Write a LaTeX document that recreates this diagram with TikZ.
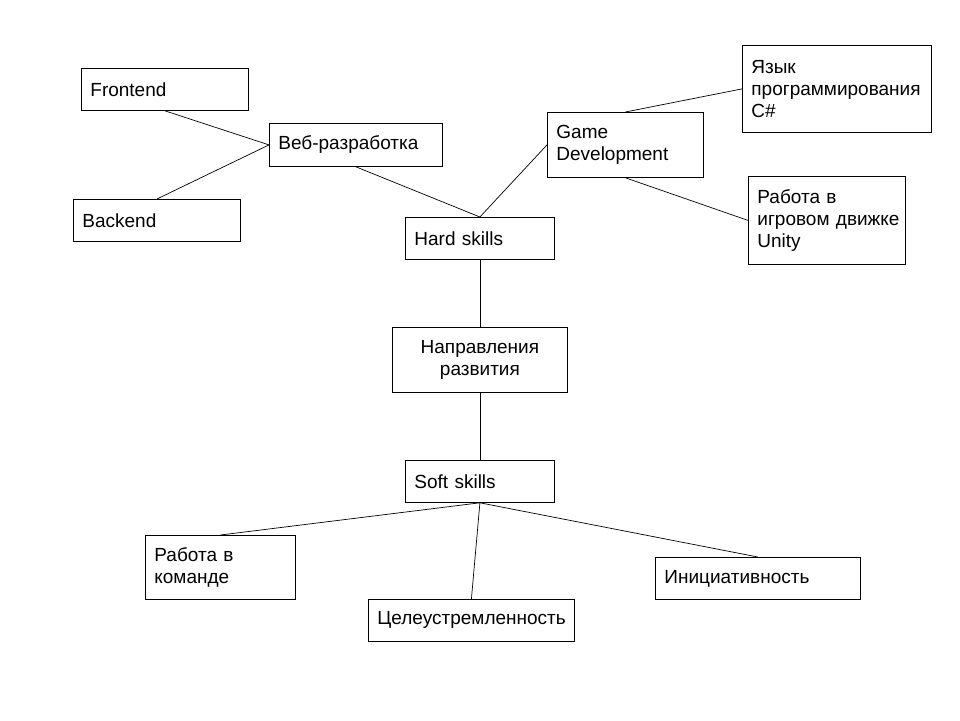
\documentclass[tikz,border=0pt]{standalone}
\usepackage{fontspec}
\setmainfont{Liberation Sans}
\hyphenpenalty=10000
\exhyphenpenalty=10000

\tikzstyle{skill}=[draw, line width=0.8pt, anchor=north west, align=left, inner xsep=9pt, inner ysep=0pt, font=\fontsize{19}{22}\selectfont]
\tikzstyle{link}=[line width=0.7pt]

\begin{document}
\begin{tikzpicture}[x=1pt, y=-1pt]
\useasboundingbox (0,0) rectangle (960,720);

\node [skill, text width=149pt, minimum height=42pt] (front) at (81,68) {Frontend};
\node [skill, text width=149pt, minimum height=42pt] (back) at (73,199) {Backend};
\node [skill, text width=155pt, minimum height=43pt] (web) at (269,123) {Веб-разработка};
\node [skill, text width=131pt, minimum height=42pt] (hard) at (405,217) {Hard~skills};
\node [skill, text width=138pt, minimum height=65pt] (game) at (547,112) {Game\\Development};
\node [skill, text width=171pt, minimum height=87pt] (lang) at (742,45) {Язык\\программирования\\C\#};
\node [skill, text width=139pt, minimum height=88pt] (unity) at (748,176) {Работа~в\\игровом~движке\\Unity};
\node [skill, align=center, text width=157pt, minimum height=65pt] (dir) at (392,327) {Направления\\развития};
\node [skill, text width=131pt, minimum height=42pt] (soft) at (405,460) {Soft~skills};
\node [skill, text width=132pt, minimum height=64pt] (team) at (145,535) {Работа~в\\команде};
\node [skill, text width=188pt, minimum height=42pt] (goal) at (368,599) {Целеустремленность};
\node [skill, text width=187pt, minimum height=42pt] (init) at (655,557) {Инициативность};

\draw [link] (front.south) -- (web.west);
\draw [link] (back.north) -- (web.west);
\draw [link] (web.south) -- (hard.north);
\draw [link] (hard.north) -- (game.west);
\draw [link] (game.north) -- (lang.west);
\draw [link] (game.south) -- (unity.west);
\draw [link] (hard.south) -- (dir.north);
\draw [link] (dir.south) -- (soft.north);
\draw [link] (soft.south) -- (team.north);
\draw [link] (soft.south) -- (goal.north);
\draw [link] (soft.south) -- (init.north);
\end{tikzpicture}
\end{document}
